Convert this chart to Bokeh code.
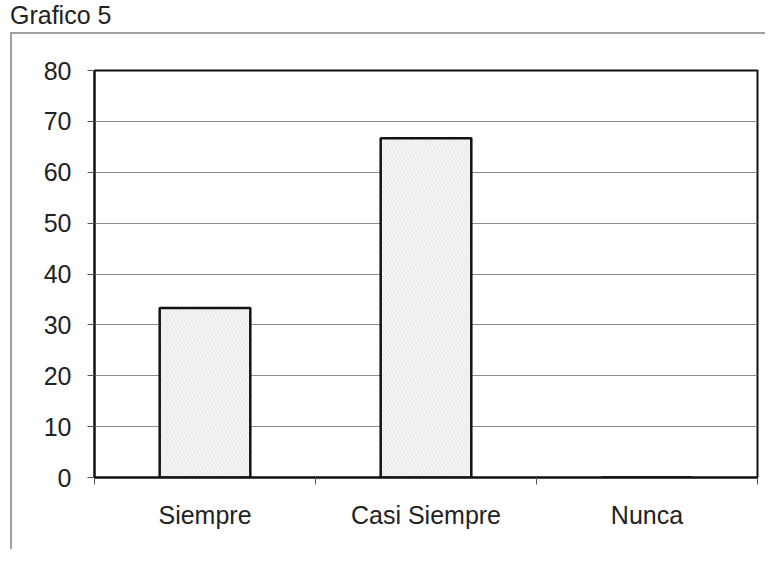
from bokeh.plotting import figure
from bokeh.models import FixedTicker, Range1d, Div
from bokeh.layouts import column
from bokeh.embed import file_html
from bokeh.resources import INLINE

# ---- data ----
categories = ["Siempre", "Casi Siempre", "Nunca"]
values = [33.3, 66.7, 0.0]
y_ticks = [0, 10, 20, 30, 40, 50, 60, 70, 80]
title_text = "Grafico 5"

FONT = "Liberation Sans"

W, H = 765, 549
TITLE_H = 30
ML, MR, MT, MB = 94, 8, 70 - TITLE_H, 72

title = Div(text=f'<div style="font-family:\'{FONT}\';font-size:25px;line-height:30px;'
                 f'color:#222222;padding-left:10px;margin:0;white-space:nowrap;">{title_text}</div>',
            width=W, height=TITLE_H, margin=0)

p = figure(width=W, height=H - TITLE_H, output_backend="svg", toolbar_location=None,
           x_range=Range1d(0, len(categories)), y_range=Range1d(0, 80),
           min_border_left=ML, min_border_right=MR, min_border_top=MT,
           min_border_bottom=MB, margin=0)

xs = [i + 0.5 for i in range(len(categories))]
p.vbar(x=xs, top=values, width=0.41, bottom=0,
       fill_color="#e6e6e6", line_color="#111111", line_width=2.5,
       hatch_pattern="\\", hatch_color="#f6f6f6", hatch_scale=7, hatch_weight=2)

# frame
p.outline_line_color = "#111111"
p.outline_line_width = 2
p.background_fill_color = "white"
p.border_fill_color = None

# grid
p.xgrid.visible = False
p.ygrid.grid_line_color = "#8a8a8a"
p.ygrid.grid_line_width = 1
p.ygrid.ticker = FixedTicker(ticks=y_ticks)

# y axis
ya = p.yaxis[0]
ya.ticker = FixedTicker(ticks=y_ticks)
ya.axis_line_color = "#111111"
ya.axis_line_width = 2
ya.major_tick_out = 7
ya.major_tick_in = 0
ya.major_tick_line_color = "#555555"
ya.minor_tick_line_color = None
ya.major_label_standoff = 16
ya.major_label_text_font = FONT
ya.major_label_text_font_size = "25px"
ya.major_label_text_color = "#222222"

# x axis: labels at bar centers, ticks at category boundaries
xa = p.xaxis[0]
xa.ticker = FixedTicker(ticks=xs, minor_ticks=list(range(len(categories) + 1)))
xa.major_label_overrides = {x: c for x, c in zip(xs, categories)}
xa.axis_line_color = "#111111"
xa.axis_line_width = 2
xa.major_tick_out = 0
xa.major_tick_in = 0
xa.minor_tick_out = 7
xa.minor_tick_in = 0
xa.minor_tick_line_color = "#555555"
xa.major_label_standoff = 16
xa.major_label_text_font = FONT
xa.major_label_text_font_size = "25px"
xa.major_label_text_color = "#222222"

layout = column(title, p, spacing=0)
# outer border of the scanned page, drawn behind the transparent plot border area
layout.styles = {
    "background-color": "white",
    "background-image": "linear-gradient(#a0a0a0, #a0a0a0), linear-gradient(#a0a0a0, #a0a0a0)",
    "background-size": "2px 100%, 100% 2px",
    "background-position": "10px 32px, 10px 32px",
    "background-repeat": "no-repeat",
}

open("out.html", "w").write(file_html(layout, INLINE))
